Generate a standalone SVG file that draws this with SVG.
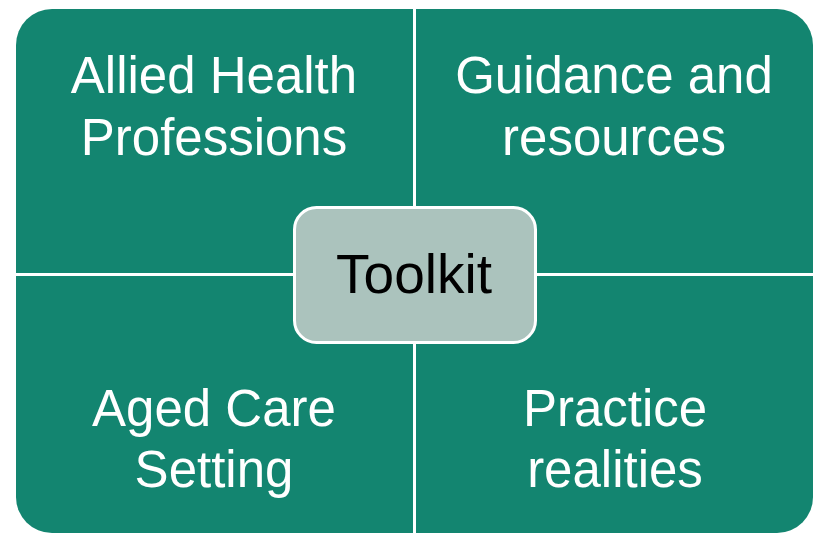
<svg xmlns="http://www.w3.org/2000/svg" width="817" height="535" viewBox="0 0 817 535">
<style>
.q{fill:#138570}
.qt{font-family:"Liberation Sans",Arial,sans-serif;font-size:51px;fill:#ffffff;text-anchor:middle}
.ct{font-family:"Liberation Sans",Arial,sans-serif;font-size:55px;fill:#000000;text-anchor:middle}
</style>
<rect width="817" height="535" fill="#ffffff"/>
<g id="q-allied">
<path class="q" d="M16,45 A36,36 0 0 1 52,9 L413,9 L413,273 L16,273 Z"/>
<text class="qt" x="214" y="93">Allied Health</text>
<text class="qt" x="214" y="155">Professions</text>
</g>
<g id="q-guidance">
<path class="q" d="M416,9 L777,9 A36,36 0 0 1 813,45 L813,273 L416,273 Z"/>
<text class="qt" x="614" y="93">Guidance and</text>
<text class="qt" x="614" y="155">resources</text>
</g>
<g id="q-aged">
<path class="q" d="M16,276 L413,276 L413,533 L52,533 A36,36 0 0 1 16,497 Z"/>
<text class="qt" x="214" y="426">Aged Care</text>
<text class="qt" x="214" y="487">Setting</text>
</g>
<g id="q-practice">
<path class="q" d="M416,276 L813,276 L813,497 A36,36 0 0 1 777,533 L416,533 Z"/>
<text class="qt" x="615" y="426">Practice</text>
<text class="qt" x="615" y="487">realities</text>
</g>
<g id="connectors"></g>
<g id="toolkit">
<rect x="294.5" y="207.5" width="241" height="135" rx="22" fill="#ABC3BD" stroke="#ffffff" stroke-width="3"/>
<text class="ct" x="414" y="293">Toolkit</text>
</g>
</svg>
